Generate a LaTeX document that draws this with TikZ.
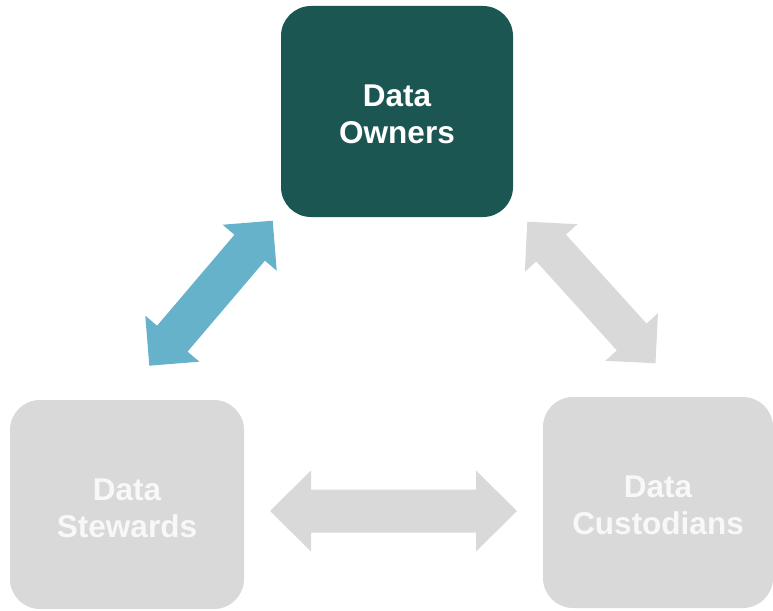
\documentclass[tikz,border=0pt]{standalone}
\usepackage{fontspec}
\setmainfont{Liberation Sans}
\usetikzlibrary{calc}
\definecolor{ownerteal}{RGB}{27,86,82}
\definecolor{linkblue}{RGB}{103,178,203}
\definecolor{softgray}{RGB}{217,217,217}
\definecolor{paletext}{RGB}{248,248,248}
\newcommand\dblarr[6]{%
  \fill[#6] (#1) -- ($(#1)!#4!(#2)!#3!90:(#2)$) -- ($(#1)!#4!(#2)!#5!90:(#2)$)
    -- ($(#2)!#4!(#1)!#5!-90:(#1)$) -- ($(#2)!#4!(#1)!#3!-90:(#1)$) -- (#2)
    -- ($(#2)!#4!(#1)!#3!90:(#1)$) -- ($(#2)!#4!(#1)!#5!90:(#1)$)
    -- ($(#1)!#4!(#2)!#5!-90:(#2)$) -- ($(#1)!#4!(#2)!#3!-90:(#2)$) -- cycle;}
\begin{document}
\begin{tikzpicture}[x=1pt,y=-1pt,
  rolebox/.style={rectangle,rounded corners=30pt,inner sep=0pt},
  roletext/.style={inner sep=0pt,align=center,
    font=\fontsize{31.5}{37}\selectfont\bfseries},
  ownerbox/.style={rolebox,fill=ownerteal},
  graybox/.style={rolebox,fill=softgray}]
\useasboundingbox (0,0) rectangle (773,610);
\node[ownerbox,minimum width=232pt,minimum height=211pt] (owners) at (397,111.5) {};
\node[graybox,minimum width=234pt,minimum height=209pt] (stewards) at (127,504.5) {};
\node[graybox,minimum width=230pt,minimum height=211pt] (custodians) at (658,502.5) {};
\node[roletext,text=white] (ownerstext) at ([yshift=-3pt]owners.center) {Data\\Owners};
\node[roletext,text=paletext] (stewardstext) at ([yshift=-3.5pt]stewards.center) {Data\\Stewards};
\node[roletext,text=paletext] (custodianstext) at ([yshift=-3pt]custodians.center) {Data\\Custodians};
% arrow end points
\coordinate (bA) at (149.3,365.7);
\coordinate (bB) at (272.7,220.7);
\coordinate (gA) at (527.3,221.7);
\coordinate (gB) at (655.5,363.3);
\coordinate (hA) at (270,511);
\coordinate (hB) at (517,511);
\dblarr{bA}{bB}{35.5pt}{35.5pt}{20pt}{linkblue}
\dblarr{gA}{gB}{35.5pt}{35.5pt}{20pt}{softgray}
\dblarr{hA}{hB}{40.5pt}{41pt}{21.5pt}{softgray}
\end{tikzpicture}
\end{document}
